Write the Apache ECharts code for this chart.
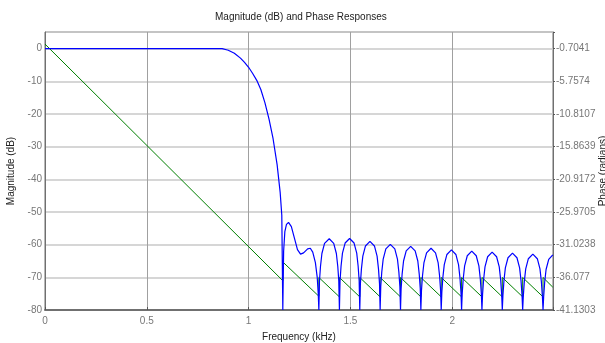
<!DOCTYPE html>
<html>
<head>
<meta charset="utf-8">
<title>Magnitude (dB) and Phase Responses</title>
<script src="https://cdn.jsdelivr.net/npm/echarts@6/dist/echarts.min.js"></script>
<style>
  html, body { margin: 0; padding: 0; background: #ffffff; }
  #chart { width: 605px; height: 343px; }
</style>
</head>
<body>
<div id="chart"></div>
<script>
// magnitude response (kHz, dB)
const magFreq = [
  0, 0.87, 0.90, 0.93, 0.96, 0.98, 1.00, 1.02, 1.04, 1.06, 1.08, 1.10, 1.12, 1.14, 1.155, 1.163, 1.168,
  1.172, 1.178, 1.186, 1.196, 1.21, 1.225, 1.24, 1.255, 1.27, 1.29, 1.303, 1.315, 1.328, 1.337, 1.342, 1.345,
  1.348, 1.353, 1.360, 1.373, 1.396, 1.418, 1.431, 1.438, 1.443, 1.446,
  1.449, 1.454, 1.461, 1.474, 1.496, 1.518, 1.531, 1.538, 1.543, 1.546,
  1.549, 1.554, 1.561, 1.574, 1.596, 1.618, 1.631, 1.638, 1.643, 1.646,
  1.649, 1.654, 1.661, 1.674, 1.696, 1.718, 1.731, 1.738, 1.743, 1.746,
  1.749, 1.754, 1.761, 1.774, 1.796, 1.818, 1.831, 1.838, 1.843, 1.846,
  1.849, 1.854, 1.861, 1.874, 1.896, 1.918, 1.931, 1.938, 1.943, 1.946,
  1.949, 1.954, 1.961, 1.974, 1.996, 2.018, 2.031, 2.038, 2.043, 2.046,
  2.049, 2.054, 2.061, 2.074, 2.096, 2.118, 2.131, 2.138, 2.143, 2.146,
  2.149, 2.154, 2.161, 2.174, 2.196, 2.218, 2.231, 2.238, 2.243, 2.246,
  2.249, 2.254, 2.261, 2.274, 2.296, 2.318, 2.331, 2.338, 2.343, 2.346,
  2.349, 2.354, 2.361, 2.374, 2.396, 2.418, 2.431, 2.438, 2.443, 2.446,
  2.449, 2.454, 2.461, 2.474, 2.494
];
const magDb = [
  0, 0, -0.5, -1.4, -2.9, -4.2, -5.7, -7.6, -9.7, -12.5, -16.5, -21.5, -27.5, -35.5, -44, -51, -80,
  -62, -56, -53.8, -53.2, -54.5, -58, -61.5, -62.9, -62.5, -61.3, -61.1, -62.3, -65.5, -70, -75, -80,
  -71.2, -66.7, -62.7, -59.6, -58.2, -59.6, -62.7, -66.7, -71.2, -80,
  -71.1, -66.6, -62.6, -59.5, -58.1, -59.5, -62.6, -66.6, -71.1, -80,
  -72.0, -67.5, -63.5, -60.4, -59.0, -60.4, -63.5, -67.5, -72.0, -80,
  -72.9, -68.4, -64.4, -61.3, -59.9, -61.3, -64.4, -68.4, -72.9, -80,
  -73.5, -69.0, -65.0, -61.9, -60.5, -61.9, -65.0, -69.0, -73.5, -80,
  -74.1, -69.6, -65.6, -62.5, -61.1, -62.5, -65.6, -69.6, -74.1, -80,
  -74.6, -70.1, -66.1, -63.0, -61.6, -63.0, -66.1, -70.1, -74.6, -80,
  -75.0, -70.5, -66.5, -63.4, -62.0, -63.4, -66.5, -70.5, -75.0, -80,
  -75.3, -70.8, -66.8, -63.7, -62.3, -63.7, -66.8, -70.8, -75.3, -80,
  -75.6, -71.1, -67.1, -64.0, -62.6, -64.0, -67.1, -71.1, -75.6, -80,
  -75.9, -71.4, -67.4, -64.3, -62.9, -64.3, -67.4, -71.4, -75.9, -80,
  -76.1, -71.6, -67.6, -64.5, -63.1
];

// phase response (kHz, radians), jumps at the stopband zeros
const phaseFreq = [
  0, 1.168, 1.168, 1.345, 1.345, 1.446, 1.446, 1.546, 1.546, 1.646, 1.646, 1.746, 1.746,
  1.846, 1.846, 1.946, 1.946, 2.046, 2.046, 2.146, 2.146, 2.246, 2.246, 2.346, 2.346,
  2.446, 2.446, 2.494
];
const phaseRad = [
  0, -36.6, -33.7, -39.0, -36.1, -39.1, -36.1, -39.1, -36.1, -39.1, -36.1, -39.1, -36.1,
  -39.1, -36.1, -39.1, -36.1, -39.1, -36.1, -39.1, -36.1, -39.1, -36.1, -39.1, -36.1,
  -39.1, -36.1, -37.6
];

const freqTicks = [0, 0.5, 1, 1.5, 2];
const magTicks = [-80, -70, -60, -50, -40, -30, -20, -10, 0];
const phaseTicks = ['-41.1303', '-36.077', '-31.0238', '-25.9705', '-20.9172',
  '-15.8639', '-10.8107', '-5.7574', '-0.7041'];

const FONT = 'Liberation Sans, Arial, sans-serif';
const labelStyle = { color: '#777777', fontSize: 10, fontFamily: FONT };

function pairs(xs, ys) {
  return xs.map((x, i) => [x, ys[i]]);
}

// right axis shares the dB grid: same number of steps between its labels
const magMin = -80, magMax = 5.1;
const phMin = Number(phaseTicks[0]);
const phStep = (Number(phaseTicks[phaseTicks.length - 1]) - phMin) / (phaseTicks.length - 1);
const phMax = phMin + (magMax - magMin) / 10 * phStep;

const chart = echarts.init(document.getElementById('chart'));

const option = {
  animation: false,
  backgroundColor: '#ffffff',
  title: {
    text: 'Magnitude (dB) and Phase Responses',
    left: 215,
    top: 12,
    padding: 0,
    textStyle: { color: '#222222', fontSize: 10, fontWeight: 'normal', fontFamily: FONT }
  },
  grid: {
    left: 45, right: 52, top: 32, bottom: 33,
    show: true,
    borderColor: '#707070',
    borderWidth: 1,
    containLabel: false,
    outerBoundsMode: 'none'
  },
  xAxis: {
    type: 'value',
    min: 0,
    max: 2.495,
    interval: 0.5,
    name: 'Frequency (kHz)',
    nameLocation: 'middle',
    nameGap: 22,
    nameTextStyle: { color: '#222222', fontSize: 10, fontFamily: FONT },
    axisLine: { show: true, onZero: false, lineStyle: { color: '#707070', width: 2 } },
    axisTick: { show: true, inside: true, length: 3, lineStyle: { color: '#555555' } },
    axisLabel: {
      ...labelStyle,
      margin: 6,
      formatter: (v) => freqTicks.some(t => Math.abs(t - v) < 1e-6) ? String(v) : ''
    },
    splitLine: { show: true, lineStyle: { color: '#a0a0a0', width: 1 } }
  },
  yAxis: [
    {
      type: 'value',
      min: magMin,
      max: magMax,
      interval: 10,
      name: 'Magnitude (dB)',
      nameLocation: 'middle',
      nameRotate: 90,
      nameGap: 24,
      nameTextStyle: { color: '#222222', fontSize: 10, fontFamily: FONT },
      axisLine: { show: true, onZero: false, lineStyle: { color: '#707070', width: 1 } },
      axisTick: { show: false },
      axisLabel: {
        ...labelStyle,
        margin: 3,
        formatter: (v) => magTicks.some(t => Math.abs(t - v) < 1e-6) ? String(Math.round(v)) : ''
      },
      splitLine: { show: true, lineStyle: { color: '#c8c8c8', width: 1.5 } }
    },
    {
      type: 'value',
      position: 'right',
      min: phMin,
      max: phMax,
      interval: phStep,
      name: 'Phase (radians)',
      nameLocation: 'middle',
      nameRotate: 90,
      nameGap: 45,
      nameMoveOverlap: false,
      nameTextStyle: { color: '#222222', fontSize: 10, fontFamily: FONT },
      axisLine: { show: true, onZero: false, lineStyle: { color: '#707070', width: 1 } },
      axisTick: { show: true, inside: false, length: 2, lineStyle: { color: '#555555' } },
      axisLabel: {
        ...labelStyle,
        margin: 3,
        formatter: (v) => {
          const hit = phaseTicks.find(t => Math.abs(Number(t) - v) < 0.01);
          return hit || '';
        }
      },
      splitLine: { show: false }
    }
  ],
  series: [
    {
      name: 'Phase',
      type: 'line',
      yAxisIndex: 1,
      data: pairs(phaseFreq, phaseRad),
      symbol: 'none',
      clip: true,
      lineStyle: { color: '#008000', width: 1 }
    },
    {
      name: 'Magnitude',
      type: 'line',
      yAxisIndex: 0,
      data: pairs(magFreq, magDb),
      symbol: 'none',
      clip: true,
      lineStyle: { color: '#0000ff', width: 1.2 }
    }
  ]
};

chart.setOption(option);
</script>
</body>
</html>
